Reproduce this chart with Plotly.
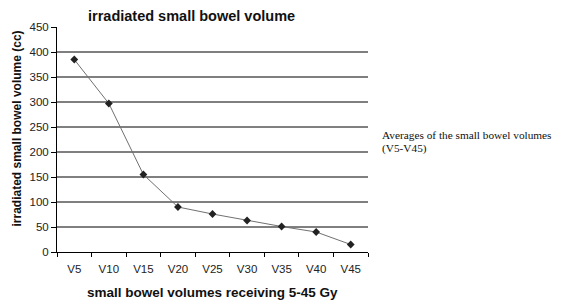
import plotly.graph_objects as go

categories = ["V5", "V10", "V15", "V20", "V25", "V30", "V35", "V40", "V45"]
volumes = [385, 297, 155, 90, 76, 63, 51, 40, 15]
y_ticks = [0, 50, 100, 150, 200, 250, 300, 350, 400, 450]
grid_values = [50, 100, 150, 200, 250, 300, 350, 400]
legend_lines = ["Averages of the small bowel volumes", "(V5-V45)"]

fig = go.Figure()
fig.add_trace(go.Scatter(
    x=categories, y=volumes, mode="lines+markers",
    line=dict(color="#707070", width=1),
    marker=dict(symbol="diamond", size=6, color="#222222"),
    showlegend=False,
))

for g in grid_values:
    fig.add_shape(type="line", xref="paper", yref="y", x0=0, x1=1, y0=g, y1=g,
                  line=dict(color="black", width=1), layer="below")

# page body adds an 8px offset; margins compensate for it
fig.update_layout(
    width=567, height=303,
    margin=dict(l=49, r=207, t=19, b=59),
    paper_bgcolor="white", plot_bgcolor="white",
    font=dict(family="Arial, Liberation Sans, sans-serif", color="#222222", size=11),
    xaxis=dict(
        type="category", range=[-0.5, 8.5], showgrid=False, automargin=False,
        showline=True, linecolor="black", linewidth=1,
        ticks="outside", tickson="boundaries", ticklen=4, tickcolor="black",
        tickfont=dict(size=11.5), ticklabelstandoff=6,
    ),
    yaxis=dict(
        range=[0, 450], tickvals=y_ticks, showgrid=False, automargin=False,
        showline=True, linecolor="black", linewidth=1, zeroline=False,
        ticks="outside", ticklen=5, tickcolor="black", tickfont=dict(size=11.5),
    ),
)

fig.add_annotation(
    xref="paper", yref="paper", x=0.431, y=1.047, xanchor="center", yanchor="middle",
    text="<b>irradiated small bowel volume</b>", showarrow=False,
    font=dict(size=14.5, color="#111111"),
)
fig.add_annotation(
    xref="paper", yref="paper", x=0.5, y=-0.182, xanchor="center", yanchor="middle",
    text="<b>small bowel volumes receiving 5-45 Gy</b>", showarrow=False,
    font=dict(size=13.5, color="#111111"),
)
fig.add_annotation(
    xref="paper", yref="paper", x=-0.13, y=0.547, xanchor="center", yanchor="middle",
    text="<b>irradiated small bowel volume (cc)</b>", showarrow=False, textangle=-90,
    font=dict(size=12, color="#111111"),
)
for line, ypos in zip(legend_lines, [0.52, 0.462]):
    fig.add_annotation(
        xref="paper", yref="paper", x=1.04, y=ypos, xanchor="left", yanchor="middle",
        text=line, align="left", showarrow=False,
        font=dict(family="Liberation Serif, Times New Roman, serif", size=11.3, color="#111111"),
    )

fig.write_html("out.html")
